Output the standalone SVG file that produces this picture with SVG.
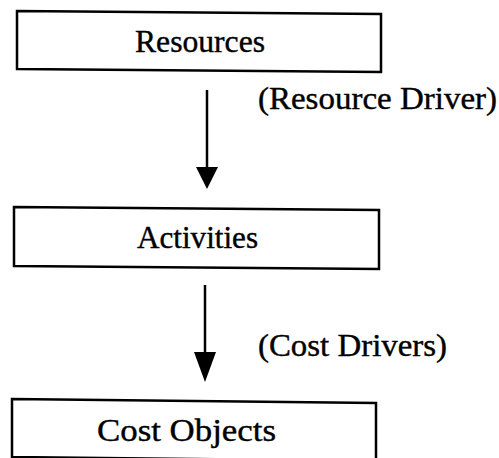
<svg xmlns="http://www.w3.org/2000/svg" width="499" height="458" viewBox="0 0 499 458">
<style>
.box{fill:#fff;stroke:#000;stroke-width:2.5;stroke-linejoin:miter}
.t{font-family:"Liberation Serif","Times New Roman",serif;font-size:31px;fill:#000;stroke:#000;stroke-width:0.4}
.lbl{font-family:"Liberation Serif","Times New Roman",serif;font-size:31px;fill:#000;stroke:#000;stroke-width:0.4}
.ln{stroke:#000;stroke-width:2.5;fill:none}
.hd{fill:#000}
</style>
<rect width="499" height="458" fill="#fff"/>
<g id="resources">
<polygon class="box" points="17,11 381,14 381,72 17,69"/>
<text class="t" x="135" y="52" textLength="130" lengthAdjust="spacingAndGlyphs">Resources</text>
</g>
<g id="activities">
<polygon class="box" points="14,207 379,210 379,269 14,266"/>
<text class="t" x="137" y="248" textLength="121" lengthAdjust="spacingAndGlyphs">Activities</text>
</g>
<g id="cost-objects">
<polygon class="box" points="12,399 376,403 376,461 12,457"/>
<text class="t" x="97" y="441" textLength="179" lengthAdjust="spacingAndGlyphs">Cost Objects</text>
</g>
<g id="connectors">
<line class="ln" x1="207" y1="90" x2="207" y2="168"/>
<polygon class="hd" points="196,167 218,167 207,189"/>
<text class="lbl" x="258" y="109" textLength="239" lengthAdjust="spacingAndGlyphs">(Resource Driver)</text>
<line class="ln" x1="205" y1="285" x2="205" y2="353"/>
<polygon class="hd" points="194,352 216,352 205,382"/>
<text class="lbl" x="258" y="356" textLength="189" lengthAdjust="spacingAndGlyphs">(Cost Drivers)</text>
</g>
</svg>
